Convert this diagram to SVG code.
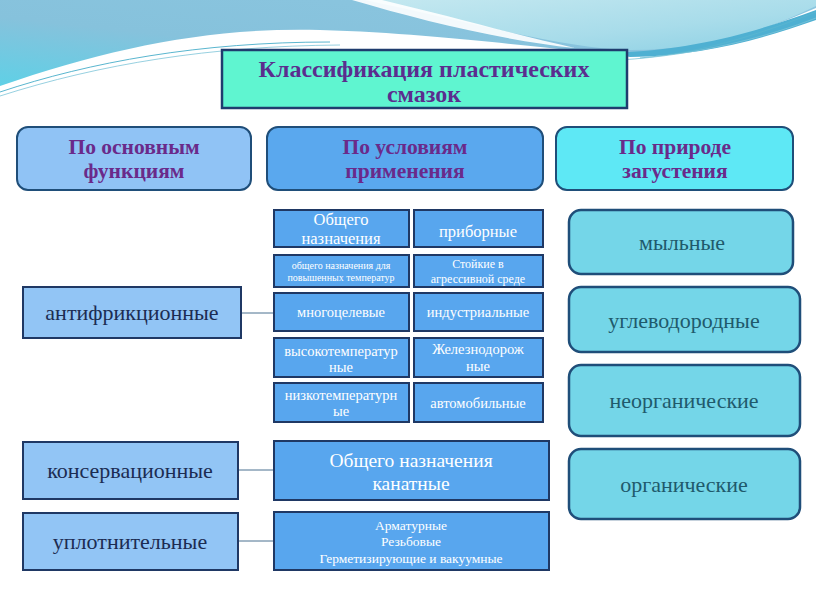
<svg xmlns="http://www.w3.org/2000/svg" width="816" height="613" viewBox="0 0 816 613">
<defs>
<linearGradient id="gBlue" x1="0" y1="1" x2="1" y2="0">
<stop offset="0" stop-color="#5fd0e6"/>
<stop offset="0.4" stop-color="#86c2dc"/>
<stop offset="1" stop-color="#8cc6e0"/>
</linearGradient>
<linearGradient id="gCyan" x1="0" y1="0" x2="1" y2="1">
<stop offset="0" stop-color="#c4e8f0"/>
<stop offset="0.6" stop-color="#a8dcea"/>
<stop offset="1" stop-color="#8cd0e4"/>
</linearGradient>
<style>
.serif{font-family:"Liberation Serif","DejaVu Serif",serif;}
.title{font-size:24px;font-weight:bold;fill:#5b2d8e;text-anchor:middle;}
.hdr{font-size:21.5px;font-weight:bold;fill:#6a2a8a;text-anchor:middle;}
.left{font-size:22px;fill:#1c2c52;text-anchor:middle;}
.right{font-size:22px;fill:#1f5a6c;text-anchor:middle;}
.mid{fill:#ffffff;text-anchor:middle;}
.boxL{fill:#92c5f5;stroke:#1f3864;stroke-width:2;}
.boxM{fill:#58a6ee;stroke:#1f3864;stroke-width:2;}
.boxR{fill:#74d6e8;stroke:#1f4e79;stroke-width:2.5;}
.conn{stroke:#4a7090;stroke-width:1;fill:none;}
</style>
</defs>
<g id="background">
<rect x="0" y="0" width="816" height="613" fill="#ffffff"/>
<path d="M0,0 H816 V8 C760,32 700,52 630,53 C560,53 460,34 320,30 C210,27 110,48 0,86 Z" fill="url(#gBlue)"/>
<path d="M365,0 H816 V6 C760,34 700,50 630,50 C560,48 470,22 365,0 Z" fill="url(#gCyan)"/>
<path d="M352,0 H382 C450,16 520,36 575,48 C500,40 420,20 352,0 Z" fill="#ffffff" opacity="0.9"/>
<path d="M610,53 C700,50 760,30 816,10 L816,20 C760,40 700,56 630,57 Z" fill="#4fb0d2"/>
<path d="M0,92 C90,62 200,42 330,42" stroke="#5ab6cf" stroke-width="1" fill="none"/>
<path d="M0,96 C100,64 210,46 340,45" stroke="#7cc4d8" stroke-width="0.8" fill="none"/>
<path d="M640,58 C710,52 770,30 816,12" stroke="#5ab6cf" stroke-width="0.8" fill="none"/>
<path d="M620,60 C700,55 770,36 816,18" stroke="#7cc4d8" stroke-width="0.8" fill="none"/>
</g>
<g id="connectors">
<line class="conn" x1="241" y1="313" x2="274" y2="313"/>
<line class="conn" x1="238" y1="470" x2="274" y2="470"/>
<line class="conn" x1="238" y1="541" x2="274" y2="541"/>
</g>
<g id="title">
<rect x="222" y="50" width="405" height="58" fill="#5ff5d0" stroke="#1f3c6e" stroke-width="2.5"/>
<text class="serif title" x="424" y="77">Классификация пластических</text>
<text class="serif title" x="424" y="102">смазок</text>
</g>
<g id="h-functions">
<rect x="17" y="127" width="234" height="63" rx="11" fill="#90c3f5" stroke="#1f4e79" stroke-width="2"/>
<text class="serif hdr" x="134" y="154">По основным</text>
<text class="serif hdr" x="134" y="178">функциям</text>
</g>
<g id="h-conditions">
<rect x="267" y="127" width="276" height="63" rx="11" fill="#5aa8ee" stroke="#1f4e79" stroke-width="2"/>
<text class="serif hdr" x="405" y="154">По условиям</text>
<text class="serif hdr" x="405" y="178">применения</text>
</g>
<g id="h-nature">
<rect x="556" y="127" width="237" height="63" rx="11" fill="#5ee8f5" stroke="#1f4e79" stroke-width="2"/>
<text class="serif hdr" x="675" y="154">По природе</text>
<text class="serif hdr" x="675" y="178">загустения</text>
</g>
<g id="antifriction">
<rect class="boxL" x="23" y="287" width="218" height="51"/>
<text class="serif left" x="132" y="320">антифрикционные</text>
</g>
<g id="conservation">
<rect class="boxL" x="23" y="442" width="215" height="57"/>
<text class="serif left" x="130" y="478">консервационные</text>
</g>
<g id="sealing">
<rect class="boxL" x="23" y="513" width="215" height="57"/>
<text class="serif left" x="130" y="549">уплотнительные</text>
</g>
<g id="m-general">
<rect class="boxM" x="274" y="210" width="135" height="37"/>
<text class="serif mid" x="341" y="225" font-size="16.5">Общего</text>
<text class="serif mid" x="341" y="244" font-size="16.5">назначения</text>
</g>
<g id="m-instrument">
<rect class="boxM" x="414" y="210" width="129" height="37"/>
<text class="serif mid" x="478" y="237" font-size="16.5">приборные</text>
</g>
<g id="m-hightemp-general">
<rect class="boxM" x="274" y="255" width="135" height="32"/>
<text class="serif mid" x="341" y="269" font-size="10">общего назначения для</text>
<text class="serif mid" x="341" y="281" font-size="10">повышенных температур</text>
</g>
<g id="m-aggressive">
<rect class="boxM" x="414" y="255" width="129" height="32"/>
<text class="serif mid" x="478" y="268" font-size="12">Стойкие в</text>
<text class="serif mid" x="478" y="283" font-size="12">агрессивной среде</text>
</g>
<g id="m-multi">
<rect class="boxM" x="274" y="293" width="135" height="38"/>
<text class="serif mid" x="341" y="317" font-size="14.5">многоцелевые</text>
</g>
<g id="m-industrial">
<rect class="boxM" x="414" y="293" width="129" height="38"/>
<text class="serif mid" x="478" y="317" font-size="14.5">индустриальные</text>
</g>
<g id="m-hightemp">
<rect class="boxM" x="274" y="338" width="135" height="39"/>
<text class="serif mid" x="341" y="356" font-size="14.5">высокотемператур</text>
<text class="serif mid" x="341" y="372" font-size="14.5">ные</text>
</g>
<g id="m-railway">
<rect class="boxM" x="414" y="338" width="129" height="39"/>
<text class="serif mid" x="478" y="354" font-size="14.5">Железнодорож</text>
<text class="serif mid" x="478" y="371" font-size="14.5">ные</text>
</g>
<g id="m-lowtemp">
<rect class="boxM" x="274" y="383" width="135" height="39"/>
<text class="serif mid" x="341" y="400" font-size="14.5">низкотемпературн</text>
<text class="serif mid" x="341" y="416" font-size="14.5">ые</text>
</g>
<g id="m-auto">
<rect class="boxM" x="414" y="383" width="129" height="39"/>
<text class="serif mid" x="478" y="408" font-size="14.5">автомобильные</text>
</g>
<g id="m-rope">
<rect class="boxM" x="274" y="441" width="275" height="59"/>
<text class="serif mid" x="411" y="467" font-size="19.5">Общего назначения</text>
<text class="serif mid" x="411" y="490" font-size="19.5">канатные</text>
</g>
<g id="m-sealing">
<rect class="boxM" x="274" y="512" width="275" height="58"/>
<text class="serif mid" x="411" y="530" font-size="13.5">Арматурные</text>
<text class="serif mid" x="411" y="546" font-size="13.5">Резьбовые</text>
<text class="serif mid" x="411" y="563" font-size="13.5">Герметизирующие и вакуумные</text>
</g>
<g id="r-soap">
<rect class="boxR" x="569" y="210" width="224" height="64" rx="12"/>
<text class="serif right" x="682" y="250">мыльные</text>
</g>
<g id="r-hydrocarbon">
<rect class="boxR" x="569" y="287" width="231" height="65" rx="12"/>
<text class="serif right" x="684" y="328">углеводородные</text>
</g>
<g id="r-inorganic">
<rect class="boxR" x="569" y="365" width="231" height="71" rx="12"/>
<text class="serif right" x="684" y="408">неорганические</text>
</g>
<g id="r-organic">
<rect class="boxR" x="569" y="449" width="231" height="70" rx="12"/>
<text class="serif right" x="684" y="492">органические</text>
</g>
</svg>
